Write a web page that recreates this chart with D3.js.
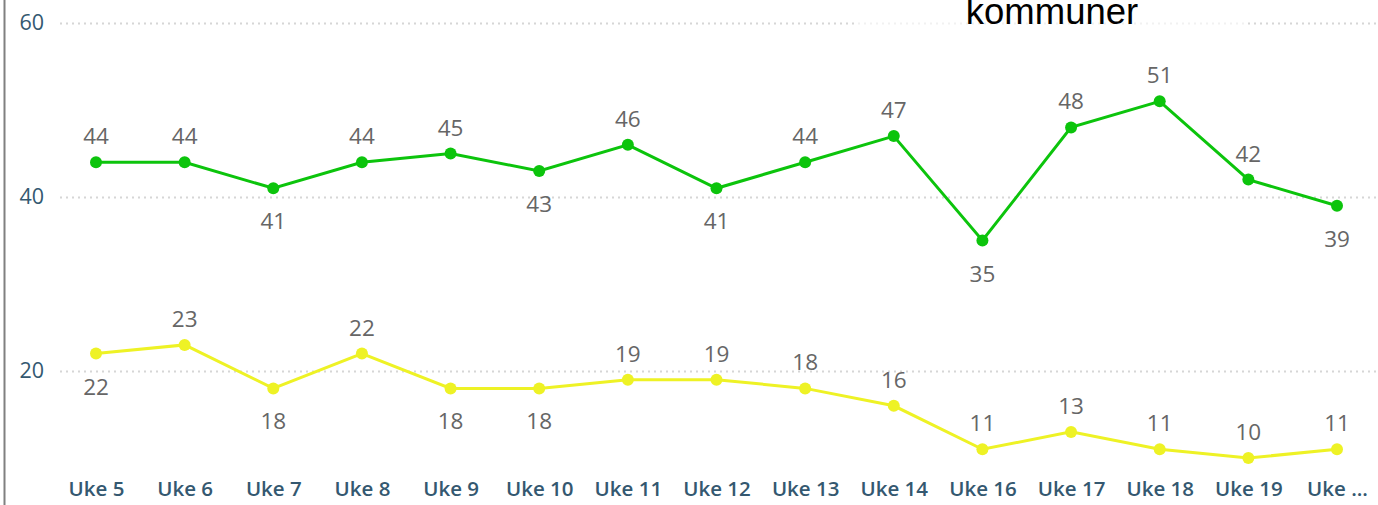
<!DOCTYPE html>
<html>
<head>
<meta charset="utf-8">
<script src="https://cdn.jsdelivr.net/npm/d3@7"></script>
<style>
  body { margin: 0; background: #fff; overflow: hidden; }
  svg { display: block; }
</style>
</head>
<body>
<div id="chart"></div>
<script>
const weeks = ['Uke 5', 'Uke 6', 'Uke 7', 'Uke 8', 'Uke 9', 'Uke 10', 'Uke 11', 'Uke 12', 'Uke 13', 'Uke 14', 'Uke 16', 'Uke 17', 'Uke 18', 'Uke 19', 'Uke ...']
const greenValues = [44, 44, 41, 44, 45, 43, 46, 41, 44, 47, 35, 48, 51, 42, 39]
const yellowValues = [22, 23, 18, 22, 18, 18, 19, 19, 18, 16, 11, 13, 11, 10, 11]
const yTicks = [20, 40, 60]
const titleText = 'kommuner'

// where power bi put the data labels: a = above, b = below
const greenSide = ['a', 'a', 'b', 'a', 'a', 'b', 'a', 'b', 'a', 'a', 'b', 'a', 'a', 'a', 'b']
const yellowSide = ['b', 'a', 'b', 'a', 'b', 'b', 'a', 'a', 'a', 'a', 'a', 'a', 'a', 'a', 'a']

const width = 1378, height = 505

const svg = d3.select("#chart")
  .append("svg")
    .attr("width", width)
    .attr("height", height)

const x = d3.scalePoint()
  .domain(weeks)
  .range([96, 1337])

const y = d3.scaleLinear()
  .domain([0, 60])
  .range([545, 23])

// left border
svg.append("line")
  .attr("x1", 4.5).attr("x2", 4.5)
  .attr("y1", 0).attr("y2", height)
  .attr("stroke", "#808080")
  .attr("stroke-width", 2)

// gridlines
svg.append("g")
  .selectAll("line")
  .data(yTicks)
  .join("line")
    .attr("x1", 60)
    .attr("x2", width)
    .attr("y1", d => y(d) + 0.5)
    .attr("y2", d => y(d) + 0.5)
    .attr("stroke", "#d6d6d6")
    .attr("stroke-width", 2)
    .attr("stroke-dasharray", "2,4")

// y axis labels
const yAxis = svg.append("g")
  .attr("transform", "translate(44,0)")
  .call(d3.axisLeft(y).tickValues(yTicks).tickSize(0).tickPadding(0))
yAxis.select(".domain").remove()
yAxis.selectAll("text")
  .attr("font-family", "'Open Sans', 'Noto Sans', sans-serif")
  .attr("font-size", 21.5)
  .attr("fill", "#345870")

// x axis labels
const xAxis = svg.append("g")
  .attr("transform", "translate(0,477)")
  .call(d3.axisBottom(x).tickSize(0).tickPadding(0))
xAxis.select(".domain").remove()
xAxis.selectAll("text")
  .attr("font-family", "'Open Sans', 'Noto Sans', sans-serif")
  .attr("font-size", 20.5)
  .attr("font-weight", 600)
  .attr("fill", "#345870")
  .attr("dy", "0.95em")

// title piece sitting over the top gridline
svg.append("rect")
  .attr("x", 858).attr("y", 0)
  .attr("width", 386).attr("height", 34)
  .attr("fill", "#fff")
  .attr("opacity", 0.65)
svg.append("text")
  .attr("x", 1052)
  .attr("y", 24)
  .attr("text-anchor", "middle")
  .attr("font-family", "'Liberation Sans', Arial, sans-serif")
  .attr("font-size", 36.5)
  .attr("fill", "#000")
  .text(titleText)

const drawSeries = (values, sides, color) => {
  const line = d3.line()
    .x((d, i) => x(weeks[i]))
    .y(d => y(d))

  svg.append("path")
    .datum(values)
    .attr("d", line)
    .attr("fill", "none")
    .attr("stroke", color)
    .attr("stroke-width", 3)

  svg.append("g")
    .selectAll("circle")
    .data(values)
    .join("circle")
      .attr("cx", (d, i) => x(weeks[i]))
      .attr("cy", d => y(d))
      .attr("r", 6)
      .attr("fill", color)

  svg.append("g")
    .selectAll("text")
    .data(values)
    .join("text")
      .attr("x", (d, i) => x(weeks[i]))
      .attr("y", (d, i) => sides[i] == 'a' ? y(d) - 18 : y(d) + 41)
      .attr("text-anchor", "middle")
      .attr("font-family", "'Open Sans', 'Noto Sans', sans-serif")
      .attr("font-size", 22.5)
      .attr("fill", "#666666")
      .text(d => d)
}

drawSeries(greenValues, greenSide, "#0cc40c")
drawSeries(yellowValues, yellowSide, "#eef225")
</script>
</body>
</html>
